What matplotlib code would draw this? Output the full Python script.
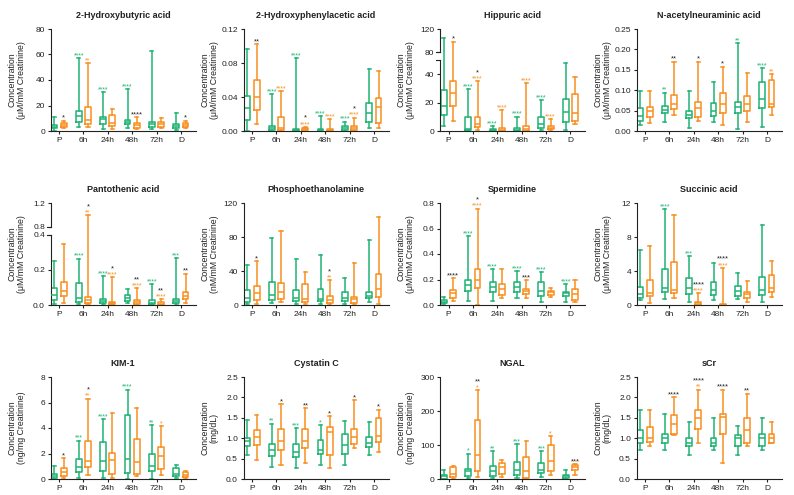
import numpy as np
import matplotlib.pyplot as plt

plt.rcParams['font.family'] = ['Liberation Sans', 'DejaVu Sans']

GREEN = '#1fb374'
ORANGE = '#f88f1f'
INK = '#222222'

time_points = ['P', '6h', '24h', '48h', '72h', 'D']

# each row: [min, q1, median, q3, max] per time point
hba_green = [[0.3, 2.0, 3.5, 5.0, 11.2], [2.9, 7.3, 11.8, 15.7, 57], [1.6, 5.5, 9.4, 11.2, 30.3],
             [2.0, 5.5, 7.3, 8.6, 32.7], [1.6, 3.4, 5.5, 7.3, 63], [1.0, 2.6, 3.9, 5.2, 13.9]]
hba_orange = [[2.0, 2.9, 4.7, 6.5, 8.0], [2.9, 5.5, 8.6, 18.6, 53], [1.6, 3.9, 6.5, 12.5, 17],
              [1.6, 2.6, 4.7, 6.5, 10.7], [2.0, 3.4, 5.5, 7.0, 10.0], [2.0, 3.4, 5.0, 6.5, 8.0]]
hba_sig = (['', '****', '****', '****', '', ''], ['', '**', '', '', '', ''], ['*', '', '', '****', '', '*'])

hpa_green = [[0, 0.013, 0.027, 0.041, 0.097], [0, 0.001, 0.0035, 0.006, 0.043], [0, 0, 0.001, 0.002, 0.0855],
             [0, 0, 0.001, 0.002, 0.0176], [0, 0.001, 0.004, 0.006, 0.011], [0.004, 0.011, 0.021, 0.033, 0.073]]
hpa_orange = [[0.008, 0.0247, 0.040, 0.060, 0.102], [0, 0.001, 0.004, 0.016, 0.047], [0.001, 0.0015, 0.003, 0.004, 0.005],
              [0, 0, 0.001, 0.002, 0.0137], [0, 0.001, 0.003, 0.006, 0.0157], [0.003, 0.009, 0.0286, 0.039, 0.070]]
hpa_sig = (['', '****', '****', '****', '****', ''], ['', '****', '****', '****', '****', ''], ['**', '', '*', '', '*', ''])

hip_green = [[3.8, 11.4, 17.8, 29.1, 104], [0, 0.7, 1.2, 9.7, 29.6], [0, 0, 0.5, 1.2, 3.6],
             [0, 0, 1.0, 2.4, 10.2], [0.7, 2.4, 4.7, 9.7, 21.6], [0.7, 6.6, 13.7, 22.5, 48]]
hip_orange = [[7.3, 17.8, 26.8, 35, 98], [0.7, 2.6, 4.7, 10.2, 35], [0, 0.2, 1.0, 2.4, 14.9],
              [0, 0.2, 1.7, 3.6, 33.9], [0.7, 1.2, 2.4, 3.6, 8.3], [4.7, 7.1, 12.6, 26.3, 37.9]]
hip_sig = (['', '****', '****', '****', '****', ''], ['', '****', '****', '****', '****', ''], ['*', '*', '', '', '', ''])

neu_green = [[0.0147, 0.0253, 0.0368, 0.0556, 0.099], [0.023, 0.043, 0.0515, 0.061, 0.094], [0.0065, 0.031, 0.039, 0.049, 0.099],
             [0.023, 0.037, 0.05, 0.069, 0.119], [0.004, 0.045, 0.06, 0.072, 0.215], [0.009, 0.0556, 0.0776, 0.119, 0.155]]
neu_orange = [[0.0204, 0.0335, 0.049, 0.0596, 0.099], [0.039, 0.053, 0.065, 0.088, 0.17], [0.025, 0.035, 0.0556, 0.072, 0.17],
              [0.0147, 0.043, 0.065, 0.092, 0.158], [0.022, 0.049, 0.065, 0.0866, 0.143], [0.039, 0.06, 0.065, 0.125, 0.14]]
neu_sig = (['', '**', '', '', '**', '****'], ['', '', '', '', '', '**'], ['', '**', '*', '*', '', ''])

pan_green = [[0.004, 0.028, 0.057, 0.098, 0.251], [0.004, 0.015, 0.038, 0.123, 0.264], [0.004, 0.013, 0.023, 0.032, 0.165],
             [0.013, 0.023, 0.038, 0.057, 0.09], [0, 0.004, 0.011, 0.028, 0.119], [0.004, 0.013, 0.023, 0.032, 0.268]]
pan_orange = [[0.009, 0.053, 0.079, 0.132, 0.349], [0.004, 0.013, 0.028, 0.047, 0.994], [0, 0.004, 0.01, 0.015, 0.16],
              [0, 0.004, 0.019, 0.028, 0.094], [0, 0, 0.008, 0.015, 0.032], [0.009, 0.034, 0.051, 0.075, 0.179]]
pan_sig = (['', '****', '****', '', '****', '***'], ['', '**', '****', '****', '****', ''], ['', '*', '*', '**', '**', '**'])

pea_green = [[0.8, 3.9, 8.6, 17.6, 47], [2, 5.9, 11.7, 27.4, 79], [0.8, 4.7, 7.8, 17.6, 53.6],
             [0.8, 4.7, 6.6, 18.8, 59.4], [0.8, 4.7, 8.6, 15.6, 31.3], [3.9, 7.8, 10.6, 15.6, 76.2]]
pea_orange = [[0.8, 5.9, 14.5, 22.3, 51.6], [3.9, 7, 15.6, 25.4, 86.8], [0.8, 3.1, 6.6, 24.2, 38.3],
              [0.8, 2, 5.9, 10.6, 29.3], [0.8, 2.7, 6.6, 9.8, 49.6], [0.8, 9.8, 18.8, 36.4, 103.6]]
pea_sig = (['', '', '', '', '', ''], ['', '', '', '**', '', ''], ['*', '', '', '*', '', ''])

spd_green = [[0.005, 0.013, 0.026, 0.039, 0.065], [0.031, 0.109, 0.156, 0.2, 0.542], [0.031, 0.104, 0.143, 0.182, 0.279],
             [0.057, 0.104, 0.143, 0.177, 0.266], [0.026, 0.073, 0.109, 0.182, 0.26], [0.026, 0.07, 0.091, 0.104, 0.164]]
spd_orange = [[0.031, 0.057, 0.091, 0.117, 0.208], [0, 0.13, 0.195, 0.281, 0.756], [0.057, 0.078, 0.125, 0.164, 0.279],
              [0.057, 0.083, 0.109, 0.122, 0.195], [0.06, 0.078, 0.099, 0.112, 0.135], [0.026, 0.039, 0.083, 0.122, 0.195]]
spd_sig = (['', '****', '****', '****', '****', '****'], ['', '****', '', '', '', ''], ['****', '*', '', '***', '', ''])

suc_green = [[0.59, 0.86, 1.25, 2.07, 6.45], [0.66, 1.56, 1.95, 4.22, 11.3], [0.39, 1.25, 2.03, 3.2, 5.79],
             [0.59, 1.17, 1.76, 2.66, 4.89], [0.66, 1.06, 1.64, 2.27, 3.71], [0.31, 1.17, 1.76, 3.32, 9.38]]
suc_orange = [[0.2, 1.1, 1.37, 2.93, 6.96], [0.78, 1.37, 1.76, 5.08, 10.55], [0, 0, 0.2, 0.39, 1.37],
              [0, 0, 0.04, 0.08, 4.38], [0.39, 0.78, 1.25, 1.56, 2.85], [0.98, 1.49, 1.95, 3.52, 5.2]]
suc_sig = (['', '****', '***', '', '', ''], ['', '', '****', '****', '', ''], ['', '', '****', '****', '', ''])

kim_green = [[0, 0.08, 0.26, 0.42, 0.99], [0.08, 0.52, 0.91, 1.56, 3.01], [0.08, 0.6, 1.38, 2.88, 4.68],
             [0, 0.47, 1.56, 5.01, 7.01], [0, 0.6, 1.04, 1.97, 4.23], [0.08, 0.21, 0.39, 0.86, 1.12]]
kim_orange = [[0.08, 0.21, 0.52, 0.86, 1.64], [0.34, 0.91, 1.38, 3.01, 6.31], [0.08, 0.39, 1.51, 2.03, 5.19],
              [0.21, 0.42, 1.3, 3.12, 5.53], [0.29, 0.81, 1.82, 2.49, 4.16], [0.08, 0.13, 0.34, 0.52, 0.6]]
kim_sig = (['', '***', '****', '****', '**', ''], ['', '**', '', '', '*', ''], ['*', '*', '', '', '', ''])

cys_green = [[0.59, 0.81, 0.92, 1.01, 1.44], [0.29, 0.57, 0.71, 0.86, 1.36], [0.27, 0.54, 0.65, 0.86, 1.24],
             [0.35, 0.62, 0.71, 0.96, 1.32], [0.35, 0.62, 0.84, 1.1, 1.43], [0.59, 0.78, 0.89, 1.02, 1.4]]
cys_orange = [[0.47, 0.84, 1.04, 1.2, 1.57], [0.35, 0.7, 0.93, 1.22, 1.83], [0.39, 0.75, 0.93, 1.22, 1.73],
              [0.27, 0.59, 1.14, 1.27, 1.54], [0.75, 0.86, 1.04, 1.23, 1.93], [0.67, 0.9, 1.06, 1.49, 1.7]]
cys_sig = (['', '**', '***', '*', '', ''], ['', '', '', '', '', ''], ['', '*', '**', '*', '*', '*'])

ngal_green = [[0, 1, 7.8, 12.7, 27.5], [3, 7.8, 22.5, 29.4, 74.5], [3, 7.8, 22.5, 39, 81],
              [3, 12.7, 27.5, 49, 103], [5, 17.6, 27.5, 47, 81], [0, 4, 7.8, 11.8, 27.5]]
ngal_orange = [[1, 6, 15.7, 35, 37], [5, 22.5, 71.6, 172.5, 261], [5, 15.7, 35, 47, 57],
               [1, 3, 22.5, 64, 111], [10.8, 22.5, 52, 101, 125.5], [10.8, 27.5, 35, 42, 44]]
ngal_sig = (['', '*', '**', '***', '***', ''], ['', '*', '', '', '*', ''], ['', '**', '', '', '', '***'])

scr_green = [[0.7, 0.89, 1.0, 1.19, 1.7], [0.7, 0.89, 1.01, 1.1, 1.6], [0.59, 0.8, 0.89, 1.0, 1.4],
             [0.7, 0.8, 0.89, 1.0, 1.5], [0.59, 0.8, 1.0, 1.08, 1.3], [0.7, 0.8, 1.0, 1.1, 1.5]]
scr_orange = [[0.8, 0.9, 1.0, 1.28, 1.7], [1.08, 1.1, 1.35, 1.57, 2.0], [0.89, 1.22, 1.5, 1.69, 2.19],
              [0.39, 1.1, 1.51, 1.59, 2.19], [0.8, 0.89, 1.2, 1.49, 2.09], [0.89, 0.89, 1.0, 1.1, 1.4]]
scr_sig = (['', '', '', '', '', ''], ['', '', '**', '', '', ''], ['', '****', '****', '****', '**', ''])

UM = 'Concentration\n(\u03bcM/mM Creatinine)'
panels = [
    dict(title='2-Hydroxybutyric acid', g=hba_green, o=hba_orange, sig=hba_sig, ylab=UM,
         yt=[0, 20, 40, 60, 80], fmt='{:.0f}'),
    dict(title='2-Hydroxyphenylacetic acid', g=hpa_green, o=hpa_orange, sig=hpa_sig, ylab=UM,
         yt=[0, 0.04, 0.08, 0.12], fmt='{:.2f}'),
    dict(title='Hippuric acid', g=hip_green, o=hip_orange, sig=hip_sig, ylab=UM,
         yt=[0, 20, 40, 80, 120], fmt='{:.0f}', brk=(50, 80, 0.696, 0.075)),
    dict(title='N-acetylneuraminic acid', g=neu_green, o=neu_orange, sig=neu_sig, ylab=UM,
         yt=[0, 0.05, 0.10, 0.15, 0.20, 0.25], fmt='{:.2f}'),
    dict(title='Pantothenic acid', g=pan_green, o=pan_orange, sig=pan_sig, ylab=UM,
         yt=[0, 0.2, 0.4, 0.8, 1.2], fmt='{:.1f}', brk=(0.4, 0.8, 0.69, 0.075)),
    dict(title='Phosphoethanolamine', g=pea_green, o=pea_orange, sig=pea_sig,
         ylab='Concentration\n(nM/mM Creatinine)', yt=[0, 40, 80, 120], fmt='{:.0f}'),
    dict(title='Spermidine', g=spd_green, o=spd_orange, sig=spd_sig, ylab=UM,
         yt=[0, 0.2, 0.4, 0.6, 0.8], fmt='{:.1f}'),
    dict(title='Succinic acid', g=suc_green, o=suc_orange, sig=suc_sig, ylab=UM,
         yt=[0, 4, 8, 12], fmt='{:.0f}'),
    dict(title='KIM-1', g=kim_green, o=kim_orange, sig=kim_sig, ylab='Concentration\n(ng/mg Creatinine)',
         yt=[0, 2, 4, 6, 8], fmt='{:.0f}'),
    dict(title='Cystatin C', g=cys_green, o=cys_orange, sig=cys_sig, ylab='Concentration\n(mg/dL)',
         yt=[0, 0.5, 1.0, 1.5, 2.0, 2.5], fmt='{:.1f}'),
    dict(title='NGAL', g=ngal_green, o=ngal_orange, sig=ngal_sig, ylab='Concentration\n(ng/mg Creatinine)',
         yt=[0, 100, 200, 300], fmt='{:.0f}'),
    dict(title='sCr', g=scr_green, o=scr_orange, sig=scr_sig, ylab='Concentration\n(mg/dL)',
         yt=[0, 0.5, 1.0, 1.5, 2.0, 2.5], fmt='{:.1f}'),
]


def broken_scale(lo, hi, top, L, G):
    U = 1 - L - G

    def fwd(v):
        v = np.asarray(v, dtype=float)
        return np.where(v <= lo, v / lo * L,
                        np.where(v < hi, L + (v - lo) / (hi - lo) * G, L + G + (v - hi) / (top - hi) * U))

    def inv(t):
        t = np.asarray(t, dtype=float)
        return np.where(t <= L, t / L * lo,
                        np.where(t < L + G, lo + (t - L) / G * (hi - lo), hi + (t - L - G) / U * (top - hi)))
    return fwd, inv


def to_stats(rows):
    return [dict(whislo=r[0], q1=r[1], med=r[2], q3=r[3], whishi=r[4]) for r in rows]


W, H = 794, 495
col_left = [50.5, 243.5, 440, 636.5]
row_top = [29, 203, 377]
ax_w, ax_h = 145, 102

fig = plt.figure(figsize=(W / 100, H / 100), dpi=100)
pos = np.arange(len(time_points))

for i, p in enumerate(panels):
    r, c = divmod(i, 4)
    ax = fig.add_axes([col_left[c] / W, (H - row_top[r] - ax_h) / H, ax_w / W, ax_h / H])
    top = p['yt'][-1]
    if 'brk' in p:
        lo, hi, L, G = p['brk']
        ax.set_yscale('function', functions=broken_scale(lo, hi, top, L, G))

    for rows, off, col in [(p['g'], -0.19, GREEN), (p['o'], 0.19, ORANGE)]:
        lp = dict(color=col, linewidth=1.1)
        ax.bxp(to_stats(rows), positions=pos + off, widths=0.24, capwidths=0.13, showfliers=False,
               boxprops=lp, whiskerprops=lp, capprops=lp, medianprops=lp)

    # significance marks: coloured = vs baseline, black = between groups
    g_sig, o_sig, d_sig = p['sig']
    for k in range(len(time_points)):
        if g_sig[k]:
            ax.annotate(g_sig[k], (k - 0.19, p['g'][k][4]), xytext=(0, 0.6), textcoords='offset points',
                        ha='center', va='baseline', fontsize=5, color=GREEN)
        if o_sig[k]:
            ax.annotate(o_sig[k], (k + 0.19, p['o'][k][4]), xytext=(0, 0.6), textcoords='offset points',
                        ha='center', va='baseline', fontsize=5, color=ORANGE)
        if d_sig[k]:
            dy = 5 if o_sig[k] else 0.8
            ax.annotate(d_sig[k], (k + 0.19, p['o'][k][4]), xytext=(0, dy), textcoords='offset points',
                        ha='center', va='baseline', fontsize=5.5, color=INK)

    ax.set_xlim(-0.35, 5.6)
    ax.set_ylim(0, top)
    ax.set_xticks(pos)
    ax.set_xticklabels(time_points)
    ax.set_yticks(p['yt'])
    ax.set_yticklabels([p['fmt'].format(v) for v in p['yt']])
    ax.minorticks_off()
    ax.tick_params(labelsize=6, length=2.5, width=0.8, pad=1.5, colors=INK)
    for s in ['top', 'right']:
        ax.spines[s].set_visible(False)
    for s in ['left', 'bottom']:
        ax.spines[s].set_linewidth(0.8)
        ax.spines[s].set_color(INK)

    if 'brk' in p:
        # y axis drawn in two pieces with a gap
        ax.spines['left'].set_visible(False)
        kw = dict(transform=ax.transAxes, clip_on=False, color=INK, linewidth=0.8)
        ax.plot([0, 0], [0, L], **kw)
        ax.plot([0, 0], [L + G, 1], **kw)
        ax.plot([-0.025, 0], [L, L], **kw)
        ax.plot([-0.025, 0], [L + G, L + G], **kw)

    ax.set_title(p['title'], fontsize=6.5, fontweight='bold', pad=8, color=INK)
    ax.set_ylabel(p['ylab'], fontsize=6.3, color=INK, linespacing=1.1)
    ax.yaxis.set_label_coords(-0.17, 0.5)

fig.savefig('out.png', dpi=100)
